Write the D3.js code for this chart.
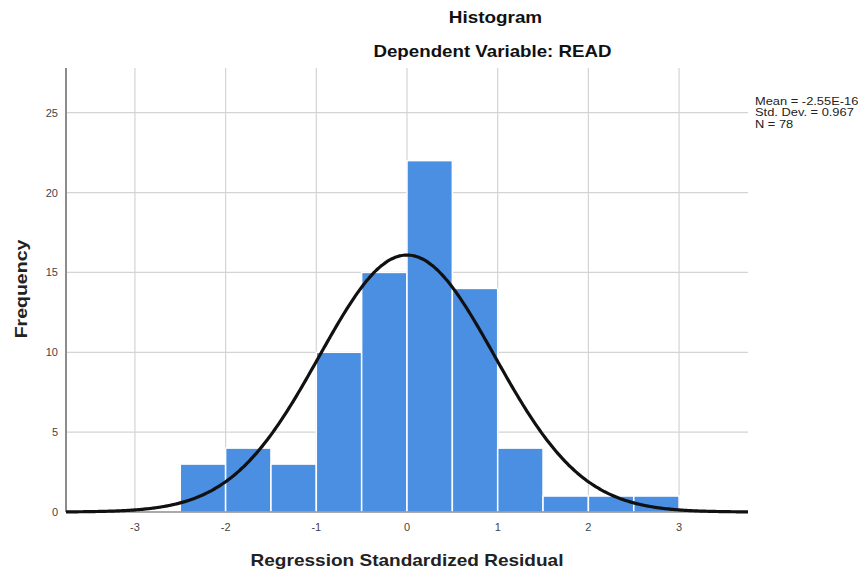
<!DOCTYPE html>
<html>
<head>
<meta charset="utf-8">
<script src="https://cdn.jsdelivr.net/npm/d3@7"></script>
<style>
  body { margin: 0; background: #fff; }
  svg text { font-family: "Liberation Sans", Arial, sans-serif; }
</style>
</head>
<body>
<div id="chart"></div>
<script>
// histogram bins (lower edge, width 0.5) and counts
const binStarts = [-2.5, -2, -1.5, -1, -0.5, 0, 0.5, 1, 1.5, 2, 2.5];
const counts = [3, 4, 3, 10, 15, 22, 14, 4, 1, 1, 1];
const binWidth = 0.5;
const xTicks = [-3, -2, -1, 0, 1, 2, 3];
const yTicks = [0, 5, 10, 15, 20, 25];
const stats = ["Mean = -2.55E-16", "Std. Dev. = 0.967", "N = 78"];
const mean = 0, sd = 0.967, n = 78;

const width = 858, height = 573;
const plot = { left: 66, right: 748, top: 68, bottom: 512 };

const svg = d3.select("#chart")
  .append("svg")
    .attr("width", width)
    .attr("height", height);

const x = d3.scaleLinear()
  .domain([-3.76, 3.76])
  .range([plot.left, plot.right]);

const y = d3.scaleLinear()
  .domain([0, 27.8])
  .range([plot.bottom, plot.top]);

// grid lines
svg.append("g")
  .selectAll("line")
  .data(xTicks)
  .join("line")
    .attr("x1", d => x(d)).attr("x2", d => x(d))
    .attr("y1", plot.top).attr("y2", plot.bottom)
    .attr("stroke", "#d4d4d4")
    .attr("stroke-width", 1.2);

svg.append("g")
  .selectAll("line")
  .data(yTicks.filter(d => d > 0))
  .join("line")
    .attr("x1", plot.left).attr("x2", plot.right)
    .attr("y1", d => y(d)).attr("y2", d => y(d))
    .attr("stroke", "#d4d4d4")
    .attr("stroke-width", 1.2);

// bars
svg.append("g")
  .selectAll("rect")
  .data(binStarts.map((b, i) => ({ x0: b, count: counts[i] })))
  .join("rect")
    .attr("x", d => x(d.x0))
    .attr("y", d => y(d.count))
    .attr("width", d => x(d.x0 + binWidth) - x(d.x0))
    .attr("height", d => y(0) - y(d.count))
    .attr("fill", "#4b8fe2")
    .attr("stroke", "#ffffff")
    .attr("stroke-width", 1.5);

// axes
svg.append("line")
  .attr("x1", plot.left).attr("x2", plot.left)
  .attr("y1", plot.top).attr("y2", plot.bottom)
  .attr("stroke", "#8c8c8c")
  .attr("stroke-width", 2);

svg.append("line")
  .attr("x1", plot.left).attr("x2", plot.right)
  .attr("y1", plot.bottom).attr("y2", plot.bottom)
  .attr("stroke", "#555")
  .attr("stroke-width", 1);

// normal curve
const curveX = d3.range(-3.76, 3.7601, 0.02);
const scaleN = n * binWidth / (sd * Math.sqrt(2 * Math.PI));
const line = d3.line()
  .x(d => x(d))
  .y(d => y(scaleN * Math.exp(-0.5 * Math.pow((d - mean) / sd, 2))))
  .curve(d3.curveBasis);

svg.append("path")
  .datum(curveX)
  .attr("d", line)
  .attr("fill", "none")
  .attr("stroke", "#111")
  .attr("stroke-width", 3.2);

// tick labels
svg.append("g")
  .selectAll("text")
  .data(yTicks)
  .join("text")
    .attr("x", 58)
    .attr("y", d => y(d) + 4)
    .attr("text-anchor", "end")
    .attr("font-size", 11)
    .attr("fill", "#444")
    .text(d => d);

svg.append("g")
  .selectAll("text")
  .data(xTicks)
  .join("text")
    .attr("x", d => x(d))
    .attr("y", 531)
    .attr("text-anchor", "middle")
    .attr("font-size", 11)
    .attr("fill", "#444")
    .text(d => d);

// text helper, the original is a bit stretched horizontally
function label(tx, ty, txt, size, sx, rot) {
  return svg.append("text")
    .attr("transform", `translate(${tx},${ty})` + (rot ? ` rotate(${rot})` : "") + ` scale(${sx},1)`)
    .attr("text-anchor", "middle")
    .attr("font-size", size)
    .attr("font-weight", "bold")
    .attr("fill", "#111")
    .text(txt);
}

label(495.5, 23, "Histogram", 16, 1.18);
label(492.5, 57, "Dependent Variable: READ", 16, 1.17);
label(407, 566, "Regression Standardized Residual", 17, 1.12).attr("fill", "#222");
label(27, 289, "Frequency", 17, 1.15, -90).attr("fill", "#222");

// stats box
svg.append("g")
  .attr("transform", "translate(755,0) scale(1.17,1)")
  .selectAll("text")
  .data(stats)
  .join("text")
    .attr("x", 0)
    .attr("y", (d, i) => 105 + i * 11.5)
    .attr("font-size", 11)
    .attr("fill", "#222")
    .text(d => d);
</script>
</body>
</html>
